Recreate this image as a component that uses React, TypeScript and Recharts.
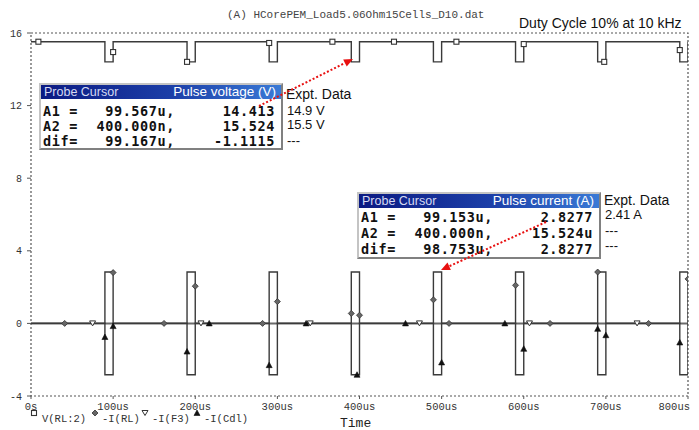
import React from 'react';
import { ComposedChart, Line, Scatter, XAxis, YAxis, ReferenceArea } from 'recharts';

// time axis in microseconds
const timeTicks = [0, 100, 200, 300, 400, 500, 600, 700, 800];
const timeLabels = ['0s', '100us', '200us', '300us', '400us', '500us', '600us', '700us', '800us'];
const valueTicks = [-4, 0, 4, 8, 12, 16];

// V(RL:2) pulse voltage [t, V]
const vRL2 = [
  [0, 15.52], [90, 15.52], [90, 14.41], [100, 14.41], [100, 15.52],
  [190, 15.52], [190, 14.41], [200, 14.41], [200, 15.52],
  [290, 15.52], [290, 14.41], [300, 14.41], [300, 15.52],
  [390, 15.52], [390, 14.41], [400, 14.41], [400, 15.52],
  [490, 15.52], [490, 14.41], [500, 14.41], [500, 15.52],
  [590, 15.52], [590, 14.41], [600, 14.41], [600, 15.52],
  [690, 15.52], [690, 14.41], [700, 14.41], [700, 15.52],
  [790, 15.52], [790, 14.41], [800, 14.41], [800, 15.52],
];

// -I(RL) pulse current [t, A]
const iRL = [
  [0, 0], [90, 0], [90, 2.83], [100, 2.83], [100, 0],
  [190, 0], [190, 2.83], [200, 2.83], [200, 0],
  [290, 0], [290, 2.83], [300, 2.83], [300, 0],
  [390, 0], [390, 2.83], [400, 2.83], [400, 0],
  [490, 0], [490, 2.83], [500, 2.83], [500, 0],
  [590, 0], [590, 2.83], [600, 2.83], [600, 0],
  [690, 0], [690, 2.83], [700, 2.83], [700, 0],
  [790, 0], [790, 2.83], [800, 2.83], [800, 0],
];

// -I(Cdl) [t, A]
const iCdl = [
  [0, 0], [90, 0], [90, -2.83], [100, -2.83], [100, 0],
  [190, 0], [190, -2.83], [200, -2.83], [200, 0],
  [290, 0], [290, -2.83], [300, -2.83], [300, 0],
  [390, 0], [390, -2.83], [400, -2.83], [400, 0],
  [490, 0], [490, -2.83], [500, -2.83], [500, 0],
  [590, 0], [590, -2.83], [600, -2.83], [600, 0],
  [690, 0], [690, -2.83], [700, -2.83], [700, 0],
  [790, 0], [790, -2.83], [800, -2.83], [800, 0],
];

// -I(F3) [t, A]
const iF3 = [[0, 0], [800, 0]];

// marker positions along each trace
const vRL2Marks = [[9, 15.52], [100, 14.95], [190, 14.41], [290, 15.45], [367, 15.52], [442, 15.52], [518, 15.52], [600, 15.39], [698, 14.41], [790, 15.06]];
const iRLMarks = [[41, 0], [100, 2.8], [162, 0], [200, 2.05], [282, 0], [300, 1.2], [390, 0.55], [400, 0.45], [490, 1.3], [509, 0], [590, 2.1], [632, 0], [690, 2.83], [752, 0], [800, 2.45]];
const iF3Marks = [[75, 0], [207, 0], [340, 0], [473, 0], [607, 0], [738, 0]];
const iCdlMarks = [[90, -0.75], [100, -0.15], [190, -1.55], [217, 0], [290, -2.3], [335, 0], [397, -2.83], [456, 0], [500, -2.15], [577, 0], [600, -1.4], [690, -0.3], [700, -0.65], [790, -1.05]];

const pts = (rows: number[][]) => rows.map(([t, v]) => ({ t, v }));

const ink = '#3a3a3a';
const mono = '"Liberation Mono", "DejaVu Sans Mono", monospace';
const sans = '"Liberation Sans", Arial, sans-serif';

const SquareMark = ({ cx, cy }: any) => (
  <rect x={cx - 2.5} y={cy - 2.5} width={5} height={5} fill="#fff" stroke="#333" strokeWidth={1.1} />
);
const DiamondMark = ({ cx, cy }: any) => (
  <path d={`M${cx},${cy - 3}L${cx + 3},${cy}L${cx},${cy + 3}L${cx - 3},${cy}Z`} fill="#666" stroke="#333" strokeWidth={0.8} />
);
const DownMark = ({ cx, cy }: any) => (
  <path d={`M${cx - 3},${cy - 2.5}L${cx + 3},${cy - 2.5}L${cx},${cy + 2.5}Z`} fill="#fff" stroke="#333" strokeWidth={1} />
);
const UpMark = ({ cx, cy }: any) => (
  <path d={`M${cx - 3},${cy + 2.5}L${cx + 3},${cy + 2.5}L${cx},${cy - 3}Z`} fill="#111" stroke="#111" strokeWidth={0.6} />
);

const TimeTick = ({ x, y, index }: any) => {
  const last = index === timeTicks.length - 1;
  return (
    <text x={last ? x + 2 : x} y={y + 8.5} textAnchor={last ? 'end' : 'middle'} fontFamily={mono} fontSize={10.5} fill="#333">
      {timeLabels[index]}
    </text>
  );
};

const ValueTick = ({ x, y, payload }: any) => (
  <text x={x} y={y + 3.5} textAnchor="end" fontFamily={mono} fontSize={10} fill="#333">
    {payload.value}
  </text>
);

type Row = [string, string, string, string];

const ProbeBox = ({ left, top, title, rows, centers, exptY, exptCenters }: { left: number; top: number; title: string; rows: Row[]; centers: number[]; exptY: number; exptCenters: number[] }) => (
  <>
    <div
      style={{
        position: 'absolute', left, top, width: 240, height: 63,
        border: '2px solid #c4c4c4', borderRightColor: '#808080', borderBottomColor: '#808080',
        background: '#fff',
      }}
    >
      <div
        style={{
          position: 'absolute', left: 0, top: 0, width: 240, height: 14,
          background: 'linear-gradient(to right, #0b1a82, #1c3fa8 55%, #3a7ad6)',
          fontFamily: sans, lineHeight: '14px',
        }}
      >
        <span style={{ position: 'absolute', left: 3, fontSize: 12.5, color: '#d6daf2' }}>Probe Cursor</span>
        <span style={{ position: 'absolute', right: 5, fontSize: 13.5, color: '#fff' }}>{title}</span>
      </div>
      {rows.map((r, i) => (
        <div key={i} style={{ position: 'absolute', left: 0, top: centers[i] - 8, width: 240, height: 16, lineHeight: '16px', fontFamily: '"DejaVu Sans Mono", monospace', fontWeight: 'bold', fontSize: 13.5, letterSpacing: 0.6, color: '#111', whiteSpace: 'pre' }}>
          <span style={{ position: 'absolute', left: 2 }}>{r[0]}</span>
          <span style={{ position: 'absolute', right: 106 }}>{r[1]}</span>
          <span style={{ position: 'absolute', right: 6 }}>{r[2]}</span>
        </div>
      ))}
    </div>
    <div style={{ position: 'absolute', left: left + 247, top: exptY - 8, fontFamily: sans, fontSize: 14, color: '#111', lineHeight: '16px' }}>Expt. Data</div>
    {rows.map((r, i) => (
      <div key={i} style={{ position: 'absolute', left: left + 248, top: exptCenters[i] - 7, fontFamily: sans, fontSize: 13, color: '#111', lineHeight: '14px', whiteSpace: 'pre' }}>
        {r[3]}
      </div>
    ))}
  </>
);

const voltRows: Row[] = [
  ['A1 =', '99.567u,', '14.413', '14.9 V'],
  ['A2 =', '400.000n,', '15.524', '15.5 V'],
  ['dif=', '99.167u,', '-1.1115', '---'],
];
const currRows: Row[] = [
  ['A1 =', '99.153u,', '2.8277', '2.41 A'],
  ['A2 =', '400.000n,', '15.524u', '---'],
  ['dif=', '98.753u,', '2.8277', '---'],
];

const Arrow = ({ x1, y1, x2, y2 }: { x1: number; y1: number; x2: number; y2: number }) => {
  const dx = x2 - x1, dy = y2 - y1;
  const len = Math.hypot(dx, dy);
  const ux = dx / len, uy = dy / len;
  const bx = x2 - ux * 9, by = y2 - uy * 9;
  return (
    <g>
      <line x1={x1} y1={y1} x2={bx} y2={by} stroke="#e81010" strokeWidth={2} strokeDasharray="2 2" />
      <path d={`M${x2},${y2}L${bx - uy * 4},${by + ux * 4}L${bx + uy * 4},${by - ux * 4}Z`} fill="#e81010" />
    </g>
  );
};

export default function App() {
  return (
    <div style={{ position: 'absolute', left: 0, top: 0, width: 699, height: 430, background: '#fff', overflow: 'hidden' }}>
      <ComposedChart width={699} height={430} margin={{ top: 33, right: 11, bottom: 4, left: 0 }}>
        <XAxis
          type="number" dataKey="t" domain={[0, 800]} ticks={timeTicks} allowDataOverflow
          axisLine={false} tickLine={{ stroke: '#555' }} tickSize={3} tickMargin={2} height={30}
          tick={<TimeTick />} interval={0}
        />
        <YAxis
          type="number" dataKey="v" domain={[-4, 16]} ticks={valueTicks} allowDataOverflow
          axisLine={false} tickLine={{ stroke: '#555' }} tickSize={4} tickMargin={5} width={31}
          tick={<ValueTick />} interval={0}
        />
        <ReferenceArea x1={0} x2={800} y1={-4} y2={16} fill="none" fillOpacity={0} stroke="#555" strokeWidth={1.2} strokeDasharray="2 2" />
        <Line data={pts(iF3)} dataKey="v" type="linear" stroke="#6a6a6a" strokeWidth={2} dot={false} isAnimationActive={false} />
        <Line data={pts(iCdl)} dataKey="v" type="linear" stroke={ink} strokeWidth={1.4} dot={false} isAnimationActive={false} />
        <Line data={pts(iRL)} dataKey="v" type="linear" stroke={ink} strokeWidth={1.4} dot={false} isAnimationActive={false} />
        <Line data={pts(vRL2)} dataKey="v" type="linear" stroke={ink} strokeWidth={1.4} dot={false} isAnimationActive={false} />
        <Scatter data={pts(vRL2Marks)} dataKey="v" shape={(p: any) => <SquareMark cx={p.cx} cy={p.cy} />} isAnimationActive={false} />
        <Scatter data={pts(iRLMarks)} dataKey="v" shape={(p: any) => <DiamondMark cx={p.cx} cy={p.cy} />} isAnimationActive={false} />
        <Scatter data={pts(iF3Marks)} dataKey="v" shape={(p: any) => <DownMark cx={p.cx} cy={p.cy} />} isAnimationActive={false} />
        <Scatter data={pts(iCdlMarks)} dataKey="v" shape={(p: any) => <UpMark cx={p.cx} cy={p.cy} />} isAnimationActive={false} />
      </ComposedChart>

      <div style={{ position: 'absolute', left: 227, top: 8, fontFamily: mono, fontSize: 11, color: '#444', lineHeight: '14px', whiteSpace: 'pre' }}>
        (A) HCorePEM_Load5.06Ohm15Cells_D10.dat
      </div>
      <div style={{ position: 'absolute', left: 519, top: 15, fontFamily: sans, fontSize: 14, color: '#111', lineHeight: '17px' }}>
        Duty Cycle 10% at 10 kHz
      </div>

      <ProbeBox left={39} top={83} title="Pulse voltage (V)" rows={voltRows} centers={[26, 41, 56]} exptY={94} exptCenters={[111, 125, 141]} />
      <ProbeBox left={357} top={192} title="Pulse current (A)" rows={currRows} centers={[23, 39, 55]} exptY={200} exptCenters={[215, 231, 246]} />

      <svg width={699} height={430} style={{ position: 'absolute', left: 0, top: 0, pointerEvents: 'none' }}>
        <Arrow x1={259} y1={106} x2={353} y2={59} />
        <Arrow x1={546} y1={222} x2={441} y2={270} />
        <SquareMark cx={34} cy={413} />
        <text x={42} y={422} fontFamily={mono} fontSize={10.5} fill="#333">V(RL:2)</text>
        <DiamondMark cx={95} cy={413} />
        <text x={102} y={422} fontFamily={mono} fontSize={10.5} fill="#333">-I(RL)</text>
        <DownMark cx={145} cy={413} />
        <text x={152} y={422} fontFamily={mono} fontSize={10.5} fill="#333">-I(F3)</text>
        <UpMark cx={197} cy={413} />
        <text x={204} y={422} fontFamily={mono} fontSize={10.5} fill="#333">-I(Cdl)</text>
        <text x={340} y={427} fontFamily={mono} fontSize={13} fill="#222">Time</text>
      </svg>
    </div>
  );
}
